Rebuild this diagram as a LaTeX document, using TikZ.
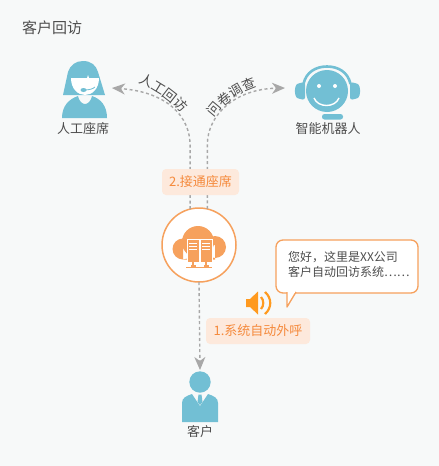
\documentclass[tikz,border=0pt]{standalone}
\usepackage{fontspec}
\setmainfont{Noto Sans CJK SC}
\usetikzlibrary{arrows.meta, positioning, decorations.text}
\definecolor{pagebg}{HTML}{F7F9F9}
\definecolor{iconblue}{HTML}{72BFD4}
\definecolor{cloudorange}{HTML}{F6A15D}
\definecolor{tagfill}{HTML}{FDE9DC}
\definecolor{tagtext}{HTML}{F58A3C}
\definecolor{flowgray}{HTML}{A8A8A8}
\definecolor{inktext}{HTML}{4D4D4D}
\definecolor{speakerorange}{HTML}{FF9A1F}
\newcommand{\arcfont}{\color{inktext}\fontsize{13.5}{13.5}\selectfont}
\begin{document}
\begin{tikzpicture}[x=1pt, y=-1pt,
  flow/.style={draw=flowgray, line width=1.4pt, dash pattern=on 3pt off 2.6pt, -{Stealth[length=13pt, width=11pt, inset=4pt]}},
  tag/.style={fill=tagfill, text=tagtext, rounded corners=4pt, font=\fontsize{13}{13}\selectfont, inner sep=0pt, minimum height=26pt, anchor=center},
  caption/.style={text=inktext, font=\fontsize{13}{13}\selectfont, inner sep=0pt},
  arclabel/.style={decorate, decoration={text along path, text align={fit to path}, text={|\arcfont|#1}}},
  holder/.style={inner sep=0pt, outer sep=0pt, minimum height=50pt}]
\fill[pagebg] (0,0) rectangle (439,466);
\useasboundingbox (0,0) rectangle (439,466);
\node[caption, font=\fontsize{15}{15}\selectfont, anchor=west] (title) at (22,28) {客户回访};
\node[holder, minimum width=56pt] (agent) at (84,88) {};
\node[holder, minimum width=84pt] (robot) at (327,88) {};
\node[holder, minimum width=36pt, anchor=north] (customer) at (200,370) {};
\node[circle, draw=cloudorange, line width=1.5pt, fill=white, minimum size=74pt, inner sep=0pt, outer sep=0pt] (hub) at (199,245) {};
\draw[flow] (hub.104) -- ++(0,-64) .. controls +(0,-28) and (168,92) .. (agent.east);
\draw[flow] (hub.77) -- ++(0,-64) .. controls +(0,-30) and (235,89) .. (robot.west);
\draw[flow] (hub.south) -- (customer.north);
\node[tag, minimum width=77pt] (answer) at (200.5,182) {2.接通座席};
\node[tag, minimum width=104pt] (dial) at (258,331) {1.系统自动外呼};
\path[arclabel={人工回访}] (138,83) .. controls (152,88) and (168,98) .. (182,113);
\path[arclabel={问卷调查}] (213.5,118) .. controls (222,105) and (238,93) .. (257,87);
\node[caption] (agentname) at (83,129) {人工座席};
\node[caption] (robotname) at (328,129) {智能机器人};
\node[caption] (customername) at (200,432) {客户};
% agent
\fill[iconblue] (63,95) -- (68,72) .. controls (70,65) and (76,61) .. (83,61) .. controls (91,61) and (96,65) .. (98,72) -- (105,95) -- cycle;
\fill[white] (71,78) -- (87,78) -- (88,75) -- (89,78) -- (99,78) .. controls (99,89) and (92,95) .. (85,95) .. controls (78,95) and (71,89) .. (71,78) -- cycle;
\fill[iconblue] (62,118) .. controls (62,106) and (69,99) .. (78,96) .. controls (79,101) and (82,104) .. (85,104) .. controls (88,104) and (91,101) .. (92,96) .. controls (101,99) and (107,106) .. (107,118) -- cycle;
\fill[iconblue] (83.5,90) ellipse [x radius=3pt, y radius=2pt];
\draw[iconblue, line width=.8pt] (84,90) .. controls (89,90) and (93,89) .. (95,87);
% robot
\draw[iconblue, line width=2.6pt] (303.5,84) .. controls (306,72) and (316,66.5) .. (327,66.5) .. controls (338,66.5) and (348,72) .. (350.5,84);
\fill[iconblue] (327,91) circle [radius=21];
\fill[iconblue, rounded corners=2.5pt] (305,82) -- (300,83) .. controls (294,85) and (294,97) .. (300,99) -- (305,100) -- cycle;
\fill[iconblue, rounded corners=2.5pt] (350,82) -- (355,83) .. controls (361,85) and (361,97) .. (355,99) -- (350,100) -- cycle;
\fill[iconblue, rounded corners=2.5pt] (322,114) rectangle (343,119.5);
\fill[white] (319,86) circle [radius=2] (335,86) circle [radius=2];
\draw[white, line width=1.4pt] (314,98) .. controls (318,108) and (335,108) .. (339,98);
% cloud
\fill[cloudorange] (183,249) circle [radius=10.5] (198,242) circle [radius=16] (215,247) circle [radius=11] (183,245) rectangle (215,259.5);
\foreach \sx in {187,200} {
  \fill[cloudorange, draw=white, line width=.9pt] (\sx,239.5) rectangle ++(12,22.5);
  \foreach \sy in {243,246,249}
    \fill[white] (\sx+2,\sy) rectangle ++(8,1.3);
  \fill[cloudorange] (\sx+5,262) rectangle ++(2,3);
  \fill[cloudorange] (\sx+3.5,265) rectangle ++(5,2);
}
\fill[cloudorange] (186,266.5) rectangle (212,267.5);
% bubble
\node[draw=cloudorange, line width=1.3pt, fill=white, rounded corners=7pt, minimum width=142pt, minimum height=53pt, inner sep=0pt, outer sep=0pt] (bubble) at (347,266.5) {};
\draw[cloudorange, line width=1.3pt, fill=white, line join=round] (287,292) -- (287,307) -- (296,292);
\fill[white] (287.7,291) rectangle (295,293.2);
\node[caption, font=\fontsize{12}{15}\selectfont, align=left, anchor=west] (greeting) at (bubble.west) [xshift=12pt, yshift=2pt] {您好\char"FF0C 这里是XX公司\\客户自动回访系统……};
% speaker
\fill[speakerorange] (246,299) -- (250,299) -- (258,291.5) -- (258,314.5) -- (250,307) -- (246,307) -- cycle;
\draw[speakerorange, line width=2.2pt] (261,297) .. controls (264,300) and (264,306) .. (261,309);
\draw[speakerorange, line width=2.2pt] (265,292) .. controls (272,298) and (272,308) .. (265,314);
% customer
\fill[iconblue] (200,382) circle [radius=10.7];
\fill[iconblue] (182,422) -- (182,403) .. controls (182,398) and (186,396) .. (192,394) -- (200,406) -- (208,394) .. controls (214,396) and (218,398) .. (218,403) -- (218,422) -- cycle;
\fill[iconblue] (198.5,394.5) -- (201.5,394.5) -- (202.5,402) -- (200,405) -- (197.5,402) -- cycle;
\end{tikzpicture}
\end{document}
